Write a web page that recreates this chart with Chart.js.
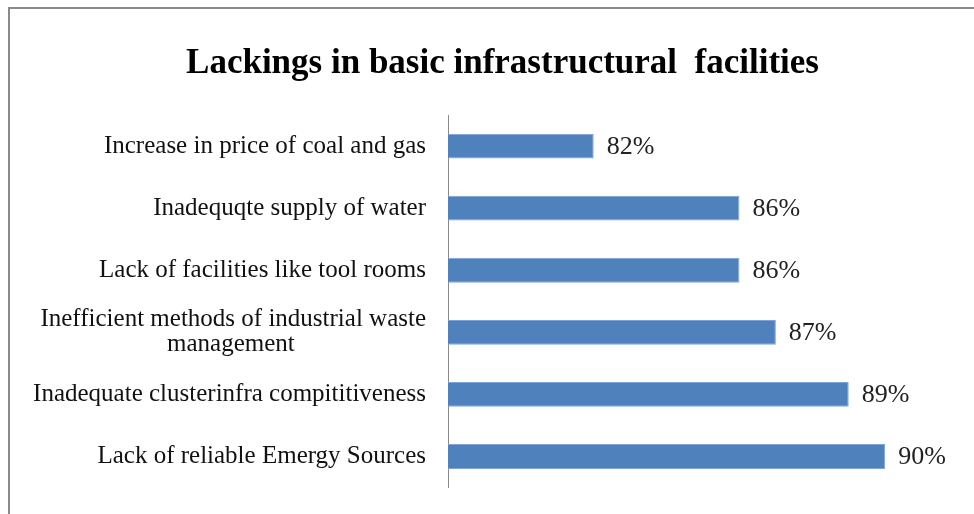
<!DOCTYPE html>
<html>
<head>
<meta charset="utf-8">
<script src="https://cdn.jsdelivr.net/npm/chart.js@4"></script>
<style>
  body { margin: 0; background: #fff; }
  #wrap { position: relative; width: 974px; height: 514px; overflow: hidden; }
  #frame { position: absolute; left: 8px; top: 7px; width: 1100px; height: 600px; border: 2px solid #8a8a8a; pointer-events: none; }
  canvas { position: absolute; left: 0; top: 0; }
</style>
</head>
<body>
<div id="wrap">
  <canvas id="chart" width="974" height="514"></canvas>
  <div id="frame"></div>
</div>
<script>
// chart data
const categories = [
    'Increase in price of coal and gas',
    'Inadequqte supply of water',
    'Lack of facilities like tool rooms',
    ['Inefficient methods of industrial waste', 'management' + ' '.repeat(21)],
    'Inadequate clusterinfra compititiveness',
    'Lack of reliable Emergy Sources'
];
const values = [82, 86, 86, 87, 89, 90];
const valueLabels = ['82%', '86%', '86%', '87%', '89%', '90%'];

// draws the percent text at the end of each bar
const barLabels = {
    id: 'barLabels',
    afterDatasetsDraw(chart) {
        const ctx = chart.ctx;
        const meta = chart.getDatasetMeta(0);
        ctx.save();
        ctx.font = '26px "Liberation Serif"';
        ctx.fillStyle = '#222';
        ctx.textAlign = 'left';
        ctx.textBaseline = 'middle';
        meta.data.forEach(function(bar, i) {
            ctx.fillText(valueLabels[i], bar.x + 13, bar.y + 1);
        });
        ctx.restore();
    }
};

const ctx = document.getElementById('chart').getContext('2d');
new Chart(ctx, {
    type: 'bar',
    data: {
        labels: categories,
        datasets: [{
            data: values,
            backgroundColor: '#4F81BD',
            borderColor: '#7ea3d4',
            borderWidth: 1,
            categoryPercentage: 1,
            barPercentage: 0.4
        }]
    },
    options: {
        indexAxis: 'y',
        responsive: false,
        animation: false,
        layout: { padding: { left: 12, right: 16, top: 0, bottom: 13 } },
        plugins: {
            legend: { display: false },
            tooltip: { enabled: false },
            title: {
                display: true,
                // leading spaces push the centred title a bit to the right, like the original
                text: '    Lackings in basic infrastructural  facilities',
                color: '#000',
                font: { family: '"Liberation Serif"', size: 35, weight: 'bold' },
                padding: { top: 43, bottom: 30 }
            }
        },
        scales: {
            x: {
                display: false,
                min: 78,
                max: 92
            },
            y: {
                grid: { display: false },
                border: { display: true, color: '#8a8a8a', width: 1 },
                ticks: {
                    color: '#111',
                    padding: 14,
                    font: { family: '"Liberation Serif"', size: 25, lineHeight: 1.0 }
                },
                afterFit: function(scale) { scale.width = 436; }
            }
        }
    },
    plugins: [barLabels]
});
</script>
</body>
</html>
